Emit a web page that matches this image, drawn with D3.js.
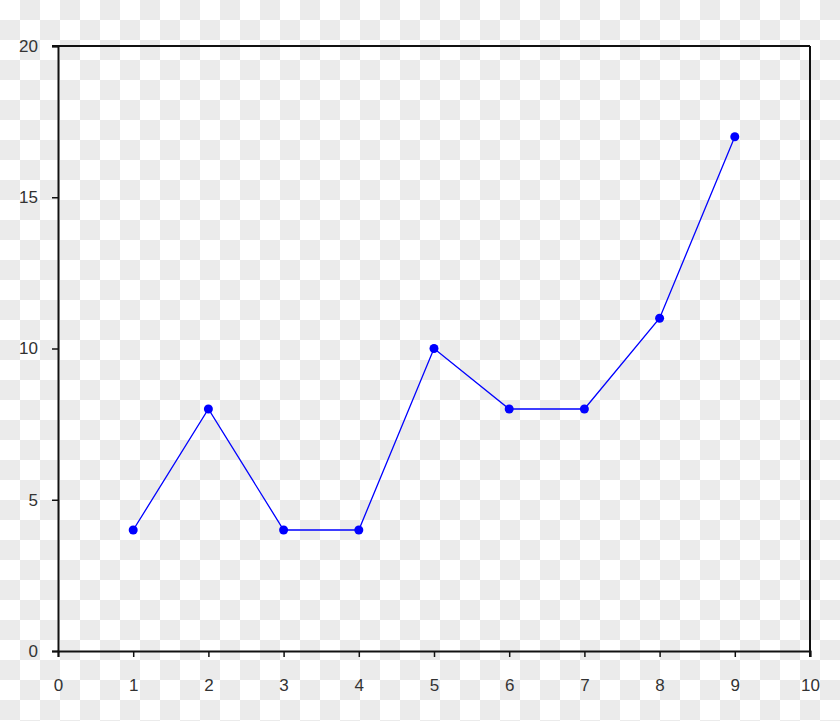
<!DOCTYPE html>
<html>
<head>
<meta charset="utf-8">
<script src="https://cdn.jsdelivr.net/npm/d3@7"></script>
<style>
  body { margin: 0; }
  svg { display: block; }
  .axis text { font-family: "Liberation Sans", Arial, sans-serif; font-size: 17px; fill: #333; }
</style>
</head>
<body>
<div id="svg-container"></div>
<script>
// data
var xValues = [1, 2, 3, 4, 5, 6, 7, 8, 9];
var yValues = [4, 8, 4, 4, 10, 8, 8, 11, 17];
var xTicks = [0, 1, 2, 3, 4, 5, 6, 7, 8, 9, 10];
var yTicks = [0, 5, 10, 15, 20];

var width = 840;
var height = 721;
var margin = {top: 46, right: 30, bottom: 70, left: 58};

var svg = d3.select('#svg-container')
  .append('svg')
  .attr("width", width)
  .attr("height", height);

// checkerboard background (transparency pattern)
var defs = svg.append("defs");
var pat = defs.append("pattern")
  .attr("id", "checks")
  .attr("width", 40)
  .attr("height", 40)
  .attr("patternUnits", "userSpaceOnUse");
pat.append("rect").attr("width", 40).attr("height", 40).attr("fill", "#ffffff");
pat.append("rect").attr("x", 20).attr("y", 0).attr("width", 20).attr("height", 20).attr("fill", "#ebebeb");
pat.append("rect").attr("x", 0).attr("y", 20).attr("width", 20).attr("height", 20).attr("fill", "#ebebeb");

svg.append("rect")
  .attr("width", width)
  .attr("height", height)
  .attr("fill", "url(#checks)");

// scales
var xscale = d3.scaleLinear()
  .domain([0, 10])
  .range([margin.left, width - margin.right]);

var yscale = d3.scaleLinear()
  .domain([0, 20])
  .range([height - margin.bottom, margin.top]);

// axes
var x_axis = d3.axisBottom(xscale).tickValues(xTicks).tickSize(6).tickSizeOuter(6).tickPadding(22);
var y_axis = d3.axisLeft(yscale).tickValues(yTicks).tickSize(6).tickSizeOuter(6).tickPadding(14);

svg.append("g")
  .attr("class", "axis")
  .attr("transform", "translate(0," + yscale(0) + ")")
  .call(x_axis);

svg.append("g")
  .attr("class", "axis")
  .attr("transform", "translate(" + xscale(0) + ",0)")
  .call(y_axis);

// top and right border of the frame
svg.append("line")
  .attr("x1", xscale(0) - 6).attr("x2", xscale(10))
  .attr("y1", yscale(20)).attr("y2", yscale(20))
  .attr("stroke", "#111").attr("stroke-width", 2);
svg.append("line")
  .attr("x1", xscale(10)).attr("x2", xscale(10))
  .attr("y1", yscale(20)).attr("y2", yscale(0) + 6)
  .attr("stroke", "#111").attr("stroke-width", 2);

svg.selectAll(".axis path").attr("stroke", "#111").attr("stroke-width", 2);
svg.selectAll(".axis line").attr("stroke", "#111").attr("stroke-width", 1.5);

// line
var line = d3.line()
  .x((d, i) => xscale(xValues[i]))
  .y((d) => yscale(d));

svg.append("path")
  .datum(yValues)
  .attr("d", line)
  .attr("fill", "none")
  .attr("stroke", "#0000ff")
  .attr("stroke-width", 1.3);

// dots
svg.selectAll(".dot")
  .data(yValues)
  .enter()
  .append("circle")
  .attr("class", "dot")
  .attr("cx", (d, i) => xscale(xValues[i]))
  .attr("cy", (d) => yscale(d))
  .attr("r", 4.5)
  .attr("fill", "#0000ff");
</script>
</body>
</html>
